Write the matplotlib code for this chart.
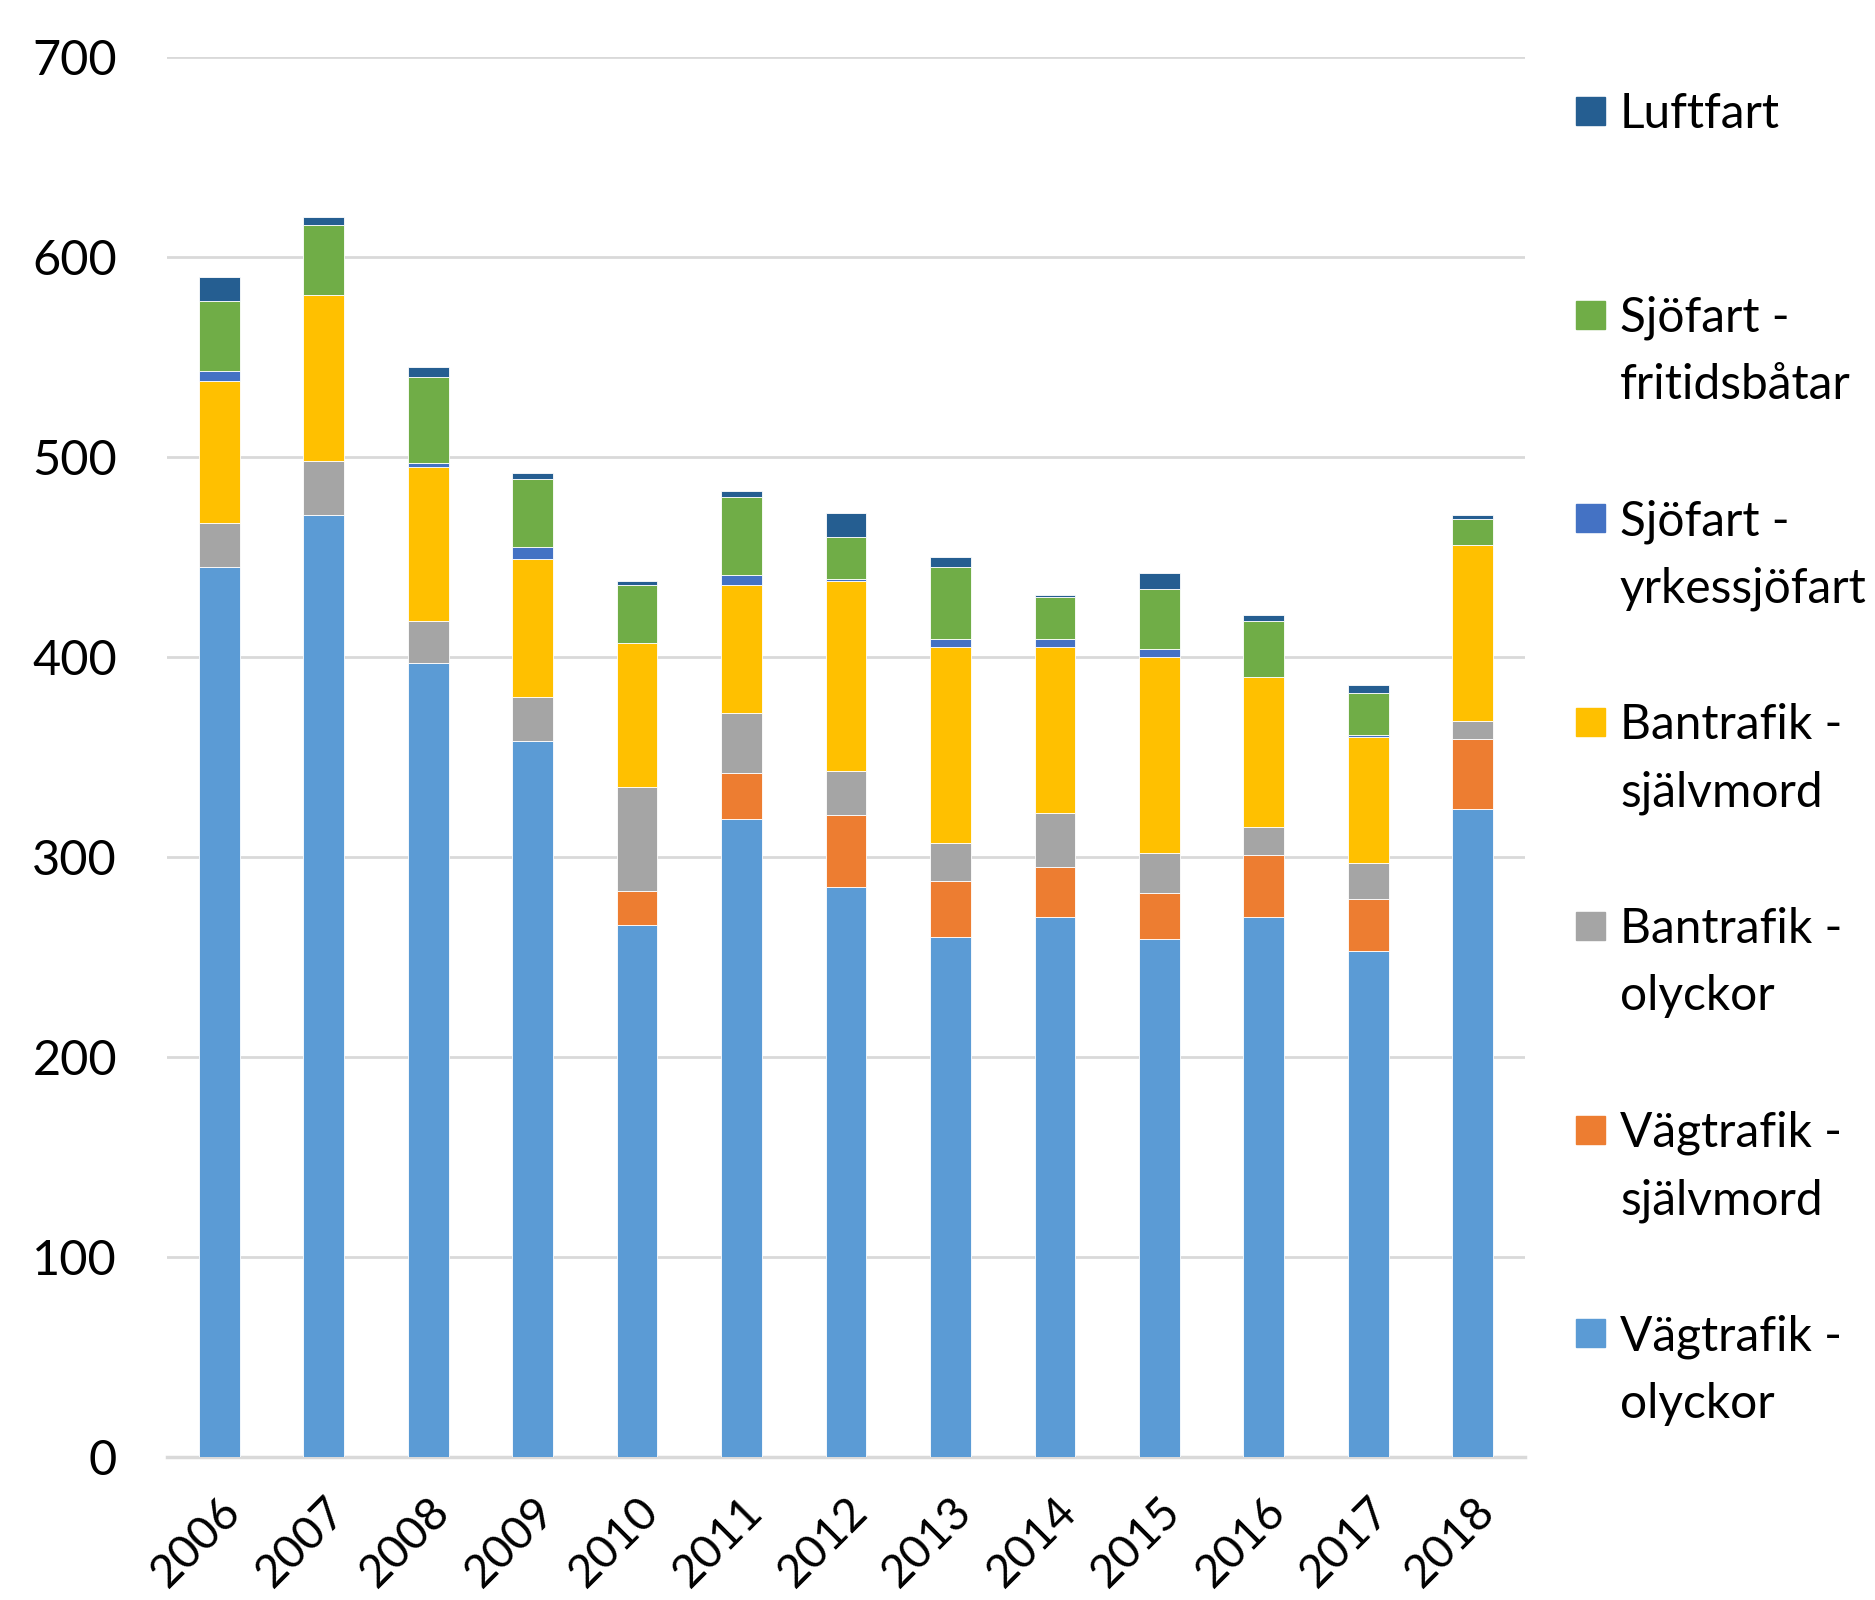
import numpy as np
import matplotlib.pyplot as plt
from matplotlib.patches import Rectangle

plt.rcParams['font.family'] = ['Lato', 'DejaVu Sans']

years = ['2006', '2007', '2008', '2009', '2010', '2011', '2012',
         '2013', '2014', '2015', '2016', '2017', '2018']

vag_olyckor = [445, 471, 397, 358, 266, 319, 285, 260, 270, 259, 270, 253, 324]
vag_sjalvmord = [0, 0, 0, 0, 17, 23, 36, 28, 25, 23, 31, 26, 35]
ban_olyckor = [22, 27, 21, 22, 52, 30, 22, 19, 27, 20, 14, 18, 9]
ban_sjalvmord = [71, 83, 77, 69, 72, 64, 95, 98, 83, 98, 75, 63, 88]
sjo_yrkes = [5, 0, 2, 6, 0, 5, 1, 4, 4, 4, 0, 1, 0]
sjo_fritid = [35, 35, 43, 34, 29, 39, 21, 36, 21, 30, 28, 21, 13]
luftfart = [12, 4, 5, 3, 2, 3, 12, 5, 1, 8, 3, 4, 2]

series = [vag_olyckor, vag_sjalvmord, ban_olyckor, ban_sjalvmord,
          sjo_yrkes, sjo_fritid, luftfart]
labels = ['Vägtrafik -\nolyckor', 'Vägtrafik -\nsjälvmord', 'Bantrafik -\nolyckor',
          'Bantrafik -\nsjälvmord', 'Sjöfart -\nyrkessjöfart', 'Sjöfart -\nfritidsbåtar',
          'Luftfart']
colors = ['#5B9BD5', '#ED7D31', '#A5A5A5', '#FFC000', '#4472C4', '#70AD47', '#255E91']

W, H = 1875, 1600
fig = plt.figure(figsize=(W / 100, H / 100), dpi=100)
ax = fig.add_axes([167 / W, 1 - 1456.7 / H, (1525 - 167) / W, (1456.7 - 56.7) / H])

x = np.arange(len(years))
bottom = np.zeros(len(years))
for vals, col in zip(series, colors):
    ax.bar(x, vals, 0.39, bottom=bottom, color=col, edgecolor='white', linewidth=0.6, zorder=3)
    bottom += np.array(vals)

ax.set_ylim(0, 700)
ax.set_xlim(-0.5, len(years) - 0.5)
ax.set_yticks(range(0, 701, 100))
ax.yaxis.grid(True, color='#d9d9d9', linewidth=2, zorder=0)
for s in ['top', 'right', 'left']:
    ax.spines[s].set_visible(False)
ax.spines['bottom'].set_color('#d9d9d9')
ax.spines['bottom'].set_linewidth(2.5)
ax.tick_params(axis='both', length=0, labelsize=35)
ax.tick_params(axis='y', pad=36)
ax.set_xticks(x)
ax.set_xticklabels(years, rotation=45, ha='right', rotation_mode='anchor', fontsize=33)
ax.tick_params(axis='x', pad=24)

# legend, marker aligned with first text line
for i, idx in enumerate(range(len(series) - 1, -1, -1)):
    yc = 111 + 203.7 * i
    fig.add_artist(Rectangle((1576 / W, 1 - (yc + 14) / H), 29 / W, 28 / H,
                             transform=fig.transFigure, color=colors[idx]))
    fig.text(1620 / W, 1 - (yc - 19) / H, labels[idx], fontsize=34.5, va='top',
             ha='left', linespacing=1.64)

fig.savefig('out.png', dpi=100)
